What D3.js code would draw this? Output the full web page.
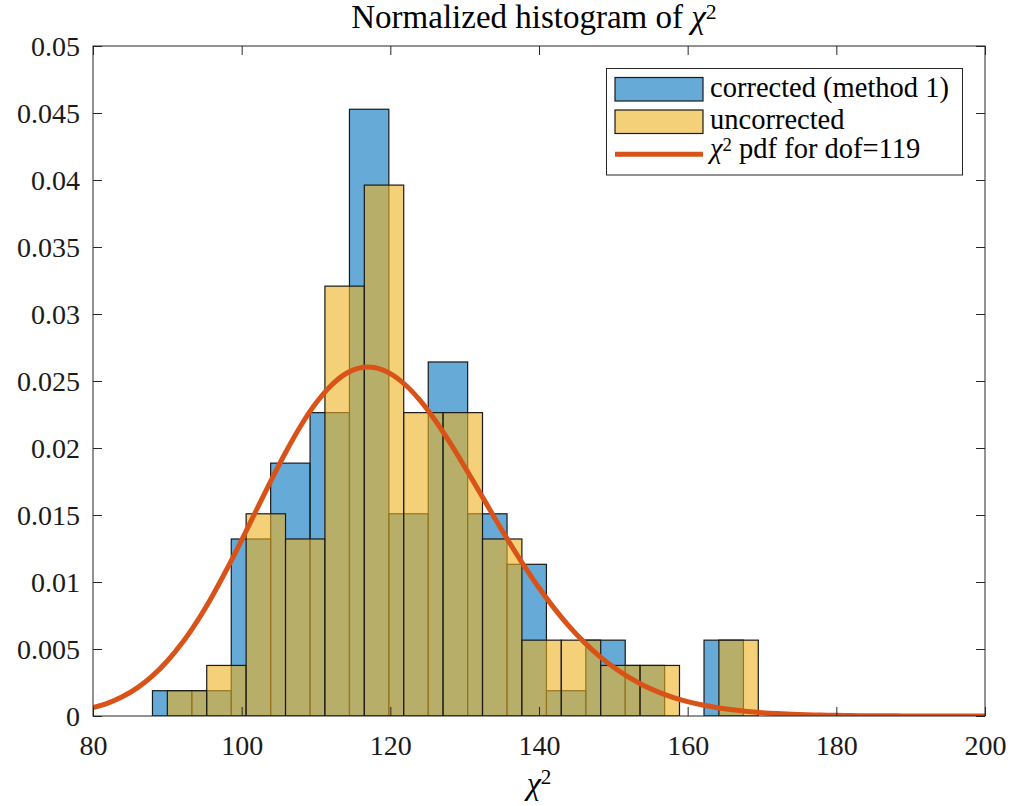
<!DOCTYPE html>
<html><head><meta charset="utf-8"><script src="https://cdn.jsdelivr.net/npm/d3@7"></script>
<style>html,body{margin:0;padding:0;background:#fff;}svg{display:block;}</style></head>
<body><svg id="chart" width="1013" height="806"></svg>
<script>
// ---- data ----
const correctedEdges = [88, 93.3, 98.6, 103.9, 109.2, 114.5, 119.8, 125.1, 130.4, 135.7, 141.0, 146.3, 151.6, 156.9, 162.2, 167.5];
const correctedDensity = [0.001887, 0.001887, 0.01321, 0.01887, 0.02264, 0.04528, 0.01509, 0.02642, 0.01509, 0.01132, 0.001887, 0.00566, 0.003774, 0, 0.00566];
const uncorrectedEdges = [90, 95.3, 100.6, 105.9, 111.2, 116.5, 121.8, 127.1, 132.4, 137.7, 143.0, 148.3, 153.6, 158.9, 164.2, 169.5];
const uncorrectedDensity = [0.001887, 0.003774, 0.01509, 0.01321, 0.03208, 0.03962, 0.02264, 0.02264, 0.01321, 0.00566, 0.00566, 0.003774, 0.003774, 0, 0.00566];
const pdfX = [80,82,84,86,88,90,92,94,96,98,100,102,104,106,108,110,112,114,116,118,120,122,124,126,128,130,132,134,136,138,140,142,144,146,148,150,152,154,156,158,160,162,164,166,168,170,172,174,176,178,180,182,184,186,188,190,192,194,196,198,200];
const pdfY = [0.0006195,0.0009662,0.001455,0.002121,0.002994,0.004102,0.005459,0.007066,0.008908,0.01095,0.01313,0.01539,0.01763,0.01976,0.02170,0.02335,0.02465,0.02554,0.02599,0.02599,0.02555,0.02472,0.02355,0.02209,0.02042,0.01860,0.01672,0.01482,0.01297,0.01121,0.009570,0.008072,0.006730,0.005549,0.004524,0.003650,0.002914,0.002303,0.001802,0.001397,0.001073,0.0008162,0.0006155,0.0004602,0.0003411,0.0002508,0.0001829,0.0001323,0.00009498,0.00006767,0.00004786,0.00003361,0.00002343,0.00001622,0.00001116,0.000007623,0.000005175,0.000003490,0.000002340,0.000001559,0.000001032];
const xTicks = [80, 100, 120, 140, 160, 180, 200];
const yTicks = [0, 0.005, 0.01, 0.015, 0.02, 0.025, 0.03, 0.035, 0.04, 0.045, 0.05];
const yTickLabels = ["0", "0.005", "0.01", "0.015", "0.02", "0.025", "0.03", "0.035", "0.04", "0.045", "0.05"];
const legendLabels = ["corrected (method 1)", "uncorrected", "pdf for dof=119"];

// ---- layout ----
const W = 1013, H = 806;
const m = {left: 93, right: 28, top: 46, bottom: 90};
const FONT = "'Liberation Serif', 'Times New Roman', serif";
const AX = "#262626";
const BLUE = "#0072BD", YEL = "#EDB120", ORANGE = "#D95319";

const svg = d3.select("#chart");
const x = d3.scaleLinear().domain([80, 200]).range([m.left, W - m.right]);
const y = d3.scaleLinear().domain([0, 0.05]).range([H - m.bottom, m.top]);

svg.append("defs").append("clipPath").attr("id", "clip")
  .append("rect").attr("x", m.left).attr("y", m.top)
  .attr("width", W - m.left - m.right).attr("height", H - m.top - m.bottom);

function bins(edges, dens) {
  return dens.map((d, i) => ({x0: edges[i], x1: edges[i + 1], v: d})).filter(b => b.v > 0);
}
const plot = svg.append("g").attr("clip-path", "url(#clip)");
function drawBars(data, color) {
  plot.append("g").selectAll("rect").data(data).join("rect")
    .attr("x", d => x(d.x0)).attr("width", d => x(d.x1) - x(d.x0))
    .attr("y", d => y(d.v)).attr("height", d => y(0) - y(d.v))
    .attr("fill", color).attr("fill-opacity", 0.6)
    .attr("stroke", "#1a1a1a").attr("stroke-width", 1.2);
}
drawBars(bins(correctedEdges, correctedDensity), BLUE);
drawBars(bins(uncorrectedEdges, uncorrectedDensity), YEL);

const line = d3.line().x(d => x(d[0])).y(d => y(d[1])).curve(d3.curveCatmullRom);
plot.append("path").datum(pdfX.map((v, i) => [v, pdfY[i]]))
  .attr("d", line).attr("fill", "none").attr("stroke", ORANGE).attr("stroke-width", 5);

// ---- axes ----
const TL = 9;
const gx = svg.append("g").attr("transform", `translate(0,${H - m.bottom})`)
  .call(d3.axisBottom(x).tickValues(xTicks).tickSizeInner(-TL).tickSizeOuter(0).tickPadding(18));
const gxt = svg.append("g").attr("transform", `translate(0,${m.top})`)
  .call(d3.axisTop(x).tickValues(xTicks).tickSizeInner(-TL).tickSizeOuter(0).tickFormat(""));
const gy = svg.append("g").attr("transform", `translate(${m.left},0)`)
  .call(d3.axisLeft(y).tickValues(yTicks).tickSizeInner(-TL).tickSizeOuter(0).tickPadding(13)
    .tickFormat((d, i) => yTickLabels[i]));
const gyr = svg.append("g").attr("transform", `translate(${W - m.right},0)`)
  .call(d3.axisRight(y).tickValues(yTicks).tickSizeInner(-TL).tickSizeOuter(0).tickFormat(""));
[gx, gxt, gy, gyr].forEach(g => {
  g.select(".domain").remove();
  g.selectAll("line").attr("stroke", AX).attr("stroke-width", 1);
  g.selectAll("text").attr("fill", "#1a1a1a").style("font-family", FONT).style("font-size", "28px");
});
gx.selectAll("text").attr("dy", null).attr("y", 39);
gy.selectAll("text").attr("dy", "0.34em");

svg.append("rect").attr("x", m.left).attr("y", m.top)
  .attr("width", W - m.left - m.right).attr("height", H - m.top - m.bottom)
  .attr("fill", "none").attr("stroke", AX).attr("stroke-width", 1);

// ---- title & label ----
function chiText(sel, before, after, size, rise) {
  if (before) sel.append("tspan").text(before);
  sel.append("tspan").style("font-style", "italic").text("χ");
  sel.append("tspan").attr("dy", -rise * size).style("font-size", (size * 0.66) + "px").text("2");
  if (after) sel.append("tspan").attr("dy", rise * size).text(after);
}
const title = svg.append("text").attr("x", 534).attr("y", 28).attr("text-anchor", "middle")
  .style("font-family", FONT).style("font-size", "33px").attr("fill", "#000");
chiText(title, "Normalized histogram of ", null, 33, 0.28);
const xl = svg.append("text").attr("x", 539).attr("y", 794).attr("text-anchor", "middle")
  .style("font-family", FONT).style("font-size", "32px").attr("fill", "#000");
chiText(xl, null, null, 32, 0.3);

// ---- legend ----
const lg = svg.append("g");
lg.append("rect").attr("x", 606.5).attr("y", 68.5).attr("width", 356).attr("height", 106.5)
  .attr("fill", "#fff").attr("stroke", AX).attr("stroke-width", 1);
const swx = 615, sww = 88;
lg.append("rect").attr("x", swx).attr("y", 77.5).attr("width", sww).attr("height", 23.5)
  .attr("fill", BLUE).attr("fill-opacity", 0.6).attr("stroke", "#1a1a1a").attr("stroke-width", 1.2);
lg.append("rect").attr("x", swx).attr("y", 110).attr("width", sww).attr("height", 23.5)
  .attr("fill", YEL).attr("fill-opacity", 0.6).attr("stroke", "#1a1a1a").attr("stroke-width", 1.2);
lg.append("line").attr("x1", swx).attr("x2", swx + sww).attr("y1", 154.3).attr("y2", 154.3)
  .attr("stroke", ORANGE).attr("stroke-width", 5);
const lt = (yy) => lg.append("text").attr("x", 710).attr("y", yy)
  .style("font-family", FONT).style("font-size", "28.5px").attr("fill", "#000");
lt(96.5).text(legendLabels[0]);
lt(128.5).text(legendLabels[1]);
const t3 = lt(158);
chiText(t3, null, " " + legendLabels[2], 28.5, 0.26);
</script></body></html>
